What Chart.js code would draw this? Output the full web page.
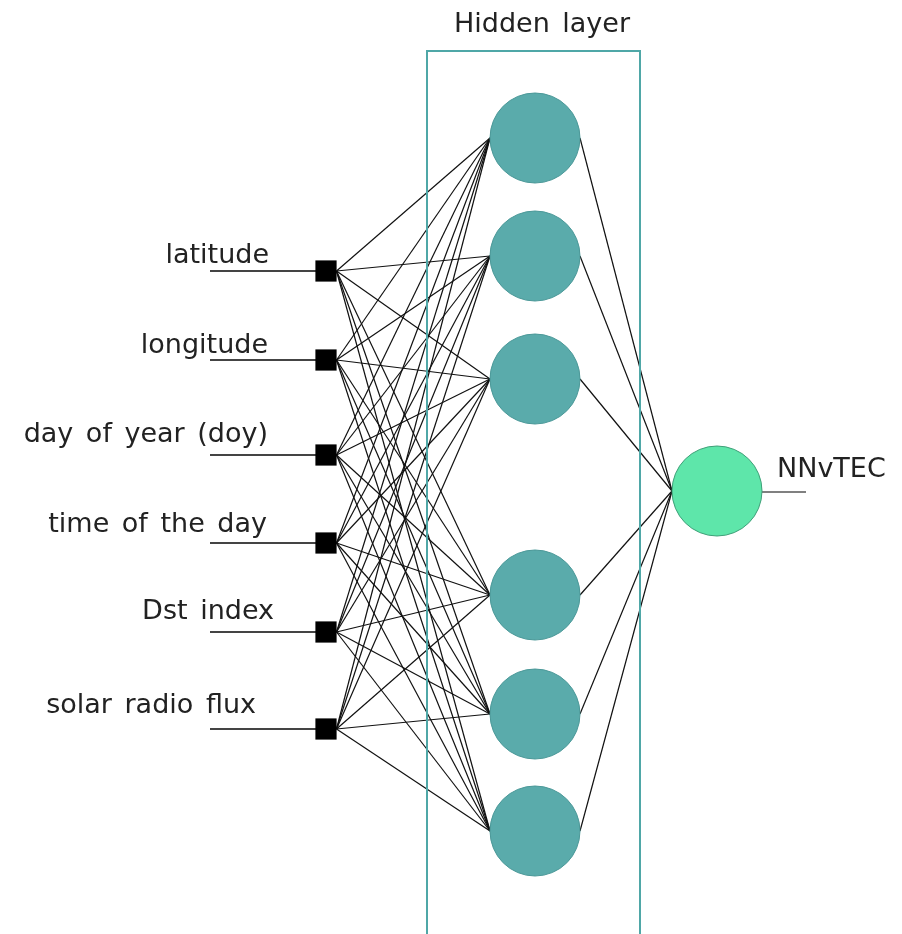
<!DOCTYPE html>
<html><head><meta charset="utf-8">
<script src="https://cdn.jsdelivr.net/npm/chart.js@4.4.0/dist/chart.umd.min.js"></script>
<style>html,body{margin:0;padding:0;background:#fff;}#wrap{width:902px;height:934px;position:relative;}</style>
</head><body><div id="wrap"><canvas id="c"></canvas></div>
<script>
// ---- data ----
const inputLabels = ['latitude', 'longitude', 'day of year (doy)', 'time of the day', 'Dst index', 'solar radio flux'];
const inputY = [271, 360, 455, 543, 632, 729];
const hiddenY = [138, 256, 379, 595, 714, 831];
const outputY = [491];
const outputLabel = 'NNvTEC';
const layerTitle = 'Hidden layer';

// ---- layout ----
const W = 902, H = 934;
const inputX = 326, hiddenX = 535, outputX = 717;
const nodeR = 45, sqR = 15, sqHalf = 10.5;
const labelRightX = [269, 268, 268, 267, 274, 256];
const labelBaseY = [263, 353, 442, 532, 619, 713];
const inputLineStartX = 210;
const outLineEndX = 806;
const box = { x0: 427, y0: 51, x1: 640, y1: 945 };
const FONT = '27px "DejaVu Sans", Verdana, sans-serif';

const datasets = [];
// nodes (on top)
datasets.push({
  label: 'hidden', order: 0,
  data: hiddenY.map(y => ({ x: hiddenX, y })),
  pointRadius: nodeR, pointBackgroundColor: '#5aabab', pointBorderColor: '#4b9898', pointBorderWidth: 1,
  showLine: false
});
datasets.push({
  label: 'output', order: 0,
  data: outputY.map(y => ({ x: outputX, y })),
  pointRadius: nodeR, pointBackgroundColor: '#5ee6aa', pointBorderColor: '#3f9f78', pointBorderWidth: 1,
  showLine: false
});
datasets.push({
  label: 'inputs', order: 0,
  data: inputY.map(y => ({ x: inputX, y })),
  pointStyle: 'rect', pointRadius: sqR, pointBackgroundColor: '#000', pointBorderColor: '#000', pointBorderWidth: 0,
  showLine: false
});
// box
datasets.push({
  label: 'box', order: 2, showLine: true, pointRadius: 0, borderColor: '#4fa7a7', borderWidth: 2,
  data: [{ x: box.x0, y: box.y1 }, { x: box.x0, y: box.y0 }, { x: box.x1, y: box.y0 }, { x: box.x1, y: box.y1 }]
});
// input stubs
inputY.forEach(y => datasets.push({
  label: 'stub', order: 3, showLine: true, pointRadius: 0, borderColor: '#444', borderWidth: 2,
  data: [{ x: inputLineStartX, y }, { x: inputX, y }]
}));
// output stub
datasets.push({
  label: 'outstub', order: 3, showLine: true, pointRadius: 0, borderColor: '#808080', borderWidth: 2,
  data: [{ x: outputX + nodeR, y: outputY[0] + 1 }, { x: outLineEndX, y: outputY[0] + 1 }]
});
// input -> hidden
inputY.forEach(yi => hiddenY.forEach(yh => datasets.push({
  label: 'conn', order: 4, showLine: true, pointRadius: 0, borderColor: '#111', borderWidth: 1.2,
  data: [{ x: inputX + sqHalf, y: yi }, { x: hiddenX - nodeR, y: yh }]
})));
// hidden -> output
hiddenY.forEach(yh => datasets.push({
  label: 'conn2', order: 4, showLine: true, pointRadius: 0, borderColor: '#111', borderWidth: 1.2,
  data: [{ x: hiddenX + nodeR, y: yh }, { x: outputX - nodeR, y: outputY[0] }]
}));

const textPlugin = {
  id: 'texts',
  afterDatasetsDraw(chart) {
    const { ctx, scales: { x, y } } = chart;
    ctx.save();
    ctx.font = FONT;
    try { ctx.wordSpacing = '4px'; } catch (e) {}
    ctx.fillStyle = '#222';
    ctx.textBaseline = 'alphabetic';
    ctx.textAlign = 'right';
    inputLabels.forEach((t, i) => ctx.fillText(t, x.getPixelForValue(labelRightX[i]), y.getPixelForValue(labelBaseY[i])));
    ctx.textAlign = 'center';
    ctx.fillText(layerTitle, x.getPixelForValue(542), y.getPixelForValue(32));
    ctx.textAlign = 'left';
    ctx.fillText(outputLabel, x.getPixelForValue(777), y.getPixelForValue(477));
    ctx.restore();
  }
};

new Chart(document.getElementById('c'), {
  type: 'scatter',
  data: { datasets },
  options: {
    responsive: true, maintainAspectRatio: false, animation: false, devicePixelRatio: 1,
    events: [], clip: false,
    layout: { padding: 0, autoPadding: false },
    plugins: { legend: { display: false }, tooltip: { enabled: false }, title: { display: false } },
    scales: {
      x: { type: 'linear', min: 0, max: W, display: false },
      y: { type: 'linear', min: 0, max: H, reverse: true, display: false }
    }
  },
  plugins: [textPlugin]
});
</script></body></html>
